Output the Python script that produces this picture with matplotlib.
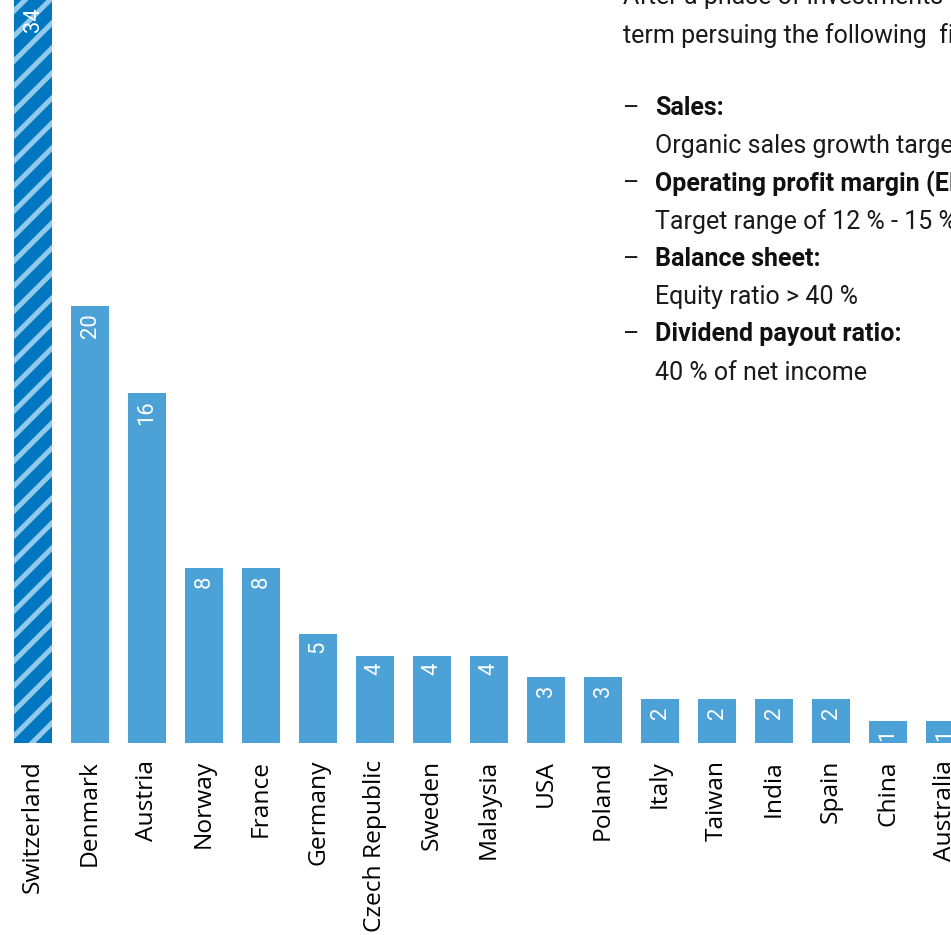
import matplotlib.pyplot as plt

countries = ['Switzerland', 'Denmark', 'Austria', 'Norway', 'France', 'Germany',
             'Czech Republic', 'Sweden', 'Malaysia', 'USA', 'Poland', 'Italy',
             'Taiwan', 'India', 'Spain', 'China', 'Australia']
values = [34, 20, 16, 8, 8, 5, 4, 4, 4, 3, 3, 2, 2, 2, 2, 1, 1]

intro_lines = ['After a phase of investments in the past years, we are in the medium',
               'term persuing the following  financial targets:']
target_titles = ['Sales:', 'Operating profit margin (EBIT):', 'Balance sheet:',
                 'Dividend payout ratio:']
target_texts = ['Organic sales growth target of 4 % - 6 % p.a.',
                'Target range of 12 % - 15 %',
                'Equity ratio > 40 %',
                '40 % of net income']

W, H, DPI = 951, 935, 150
PT = 72 / DPI  # points per pixel

light_blue = '#4ca1d6'
dark_blue = '#0077c0'
stripe = '#93c9ea'

plt.rcParams['hatch.linewidth'] = 2.4
plt.rcParams['hatch.color'] = stripe

fig = plt.figure(figsize=(W / DPI, H / DPI), dpi=DPI)
ax = fig.add_axes([0, (H - 743) / H, 1, 743 / H])

x = list(range(len(countries)))
colors = [dark_blue] + [light_blue] * (len(countries) - 1)
bars = ax.bar(x, values, width=0.667, color=colors, linewidth=0)
bars[0].set_hatch('//')
bars[0].set_edgecolor(stripe)
bars[0].set_linewidth(0)

for xi, v in zip(x, values):
    ax.annotate(str(v), (xi, v), xytext=(0, -7 * PT), textcoords='offset points',
                rotation=90, ha='center', va='top', color='white',
                fontsize=22 * PT, family='Roboto')

ax.set_xlim(-33 / 57, (W - 33) / 57)
ax.set_ylim(0, 34)
ax.set_xticks(x)
ax.set_xticklabels(countries, rotation=90, fontsize=24.5 * PT, family='Open Sans',
                   va='top')
ax.tick_params(axis='x', length=0, pad=17 * PT)
ax.set_yticks([])
for s in ax.spines.values():
    s.set_visible(False)

# text block, top right
tx_dash, tx_text = 623, 655
fs = 25 * PT
fig.text(tx_dash / W, 1 - (-3) / H, intro_lines[0], fontsize=fs, family='Roboto',
         va='center', ha='left', color='#1a1a1a')
fig.text(tx_dash / W, 1 - 36 / H, intro_lines[1], fontsize=fs, family='Roboto',
         va='center', ha='left', color='#1a1a1a')
y0 = 108
for i, (title, txt) in enumerate(zip(target_titles, target_texts)):
    yt = y0 + i * 75.5
    fig.text(tx_dash / W, 1 - yt / H, '\u2013', fontsize=fs, family='Roboto',
             va='center', ha='left', color='#1a1a1a')
    fig.text(tx_text / W, 1 - yt / H, title, fontsize=fs, family='Roboto',
             fontweight='bold', va='center', ha='left', color='#111111')
    fig.text(tx_text / W, 1 - (yt + 38) / H, txt, fontsize=fs, family='Roboto',
             va='center', ha='left', color='#1a1a1a')

fig.savefig('out.png', dpi=DPI)
